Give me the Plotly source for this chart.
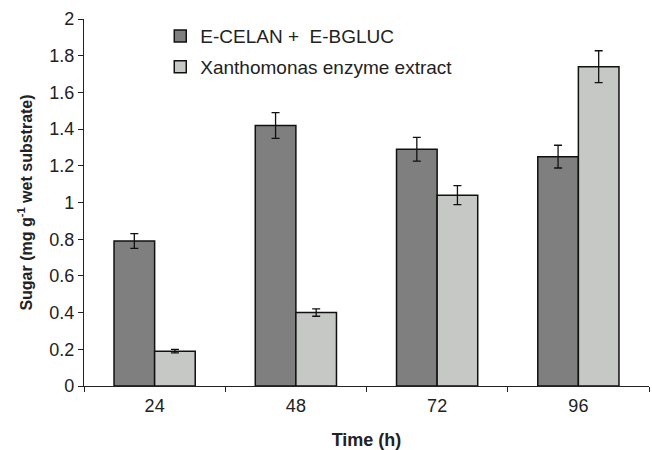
import plotly.graph_objects as go

times = ["24", "48", "72", "96"]
celan = [0.79, 1.42, 1.29, 1.25]
celan_err = [0.04, 0.07, 0.065, 0.062]
xantho = [0.19, 0.40, 1.04, 1.74]
xantho_err = [0.01, 0.02, 0.052, 0.087]

font = "Liberation Sans, Arial, sans-serif"

fig = go.Figure()
fig.add_trace(go.Bar(
    x=times, y=celan, name="E-CELAN +  E-BGLUC", legendgroup="a",
    marker=dict(color="#7f7f7f", line=dict(color="#111111", width=1.5)),
    error_y=dict(type="data", array=celan_err, color="#111111", thickness=1.3, width=4),
))
fig.add_trace(go.Bar(
    x=times, y=xantho, name="Xanthomonas enzyme extract", legendgroup="b",
    marker=dict(color="#c6c8c6", line=dict(color="#111111", width=1.5)),
    error_y=dict(type="data", array=xantho_err, color="#111111", thickness=1.3, width=4),
))

fig.update_layout(
    width=652, height=450,
    margin=dict(l=84, r=3, t=19, b=64),
    paper_bgcolor="white", plot_bgcolor="white",
    barmode="group", bargap=0.425, bargroupgap=0,
    font=dict(family=font, size=18, color="#222222"),
    legend=dict(x=0.135, y=1.005, xanchor="left", yanchor="top",
                bgcolor="rgba(0,0,0,0)", font=dict(size=19),
                traceorder="grouped", tracegroupgap=3),
    xaxis=dict(
        title=dict(text="<b>Time (h)</b>", font=dict(size=18), standoff=18),
        showline=True, linecolor="#222222", linewidth=1.2,
        ticks="outside", ticklen=5, tickcolor="#222222", tickson="boundaries",
        ticklabelstandoff=3,
        showgrid=False, range=[-0.5, 3.5],
    ),
    yaxis=dict(
        title=dict(text="<b>Sugar (mg g<sup>-1</sup> wet substrate)</b>", font=dict(size=16), standoff=12),
        range=[0, 2], dtick=0.2, tickformat="~g",
        showline=True, linecolor="#222222", linewidth=1.2,
        ticks="outside", ticklen=5, tickcolor="#222222",
        showgrid=False, zeroline=False,
    ),
)

fig.write_html("out.html")
